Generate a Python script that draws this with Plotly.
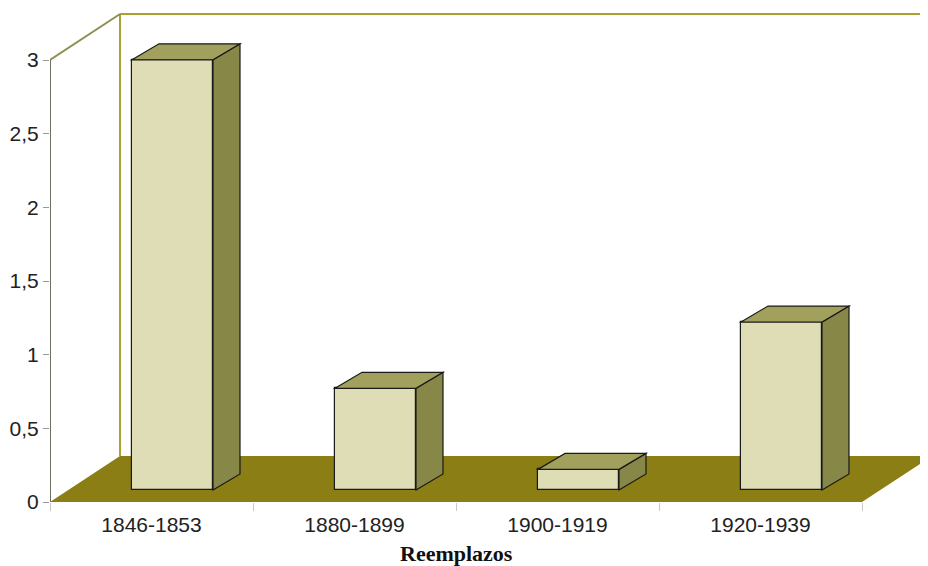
import plotly.graph_objects as go

# datos
periodos = ["1846-1853", "1880-1899", "1900-1919", "1920-1939"]
valores = [2.92, 0.69, 0.14, 1.14]
y_ticks = [0, 0.5, 1, 1.5, 2, 2.5, 3]
y_ticktext = ["0", "0,5", "1", "1,5", "2", "2,5", "3"]

# escala aproximada de la imagen (px por unidad)
PX_X = 203.0
PX_Y = 147.3

# profundidad de pared / suelo y de las barras (px -> unidades)
WALL_DX, WALL_DY = 70 / PX_X, 46 / PX_Y
BAR_SHIFT_X, BAR_BASE = 21 / PX_X, 12 / PX_Y
BAR_DX, BAR_DY = 27 / PX_X, 16 / PX_Y
BAR_W = 81 / PX_X

C_FRONT = "#dfddb6"
C_SIDE = "#878748"
C_TOP = "#a1a15d"
C_FLOOR = "#8b7e14"
C_WALL = "#a8a232"

xs = list(range(len(periodos)))
x_min = -0.5
x_max = x_min + 878 / PX_X
y_max = 3 + WALL_DY + 2 / PX_Y
n = len(periodos)

fig = go.Figure()
fig.add_trace(go.Bar(
    x=xs, y=valores, base=[BAR_BASE] * n,
    width=BAR_W, offset=-BAR_W / 2 + BAR_SHIFT_X,
    marker=dict(color=C_FRONT, line=dict(color="#1a1a1a", width=1.2)),
    showlegend=False, hoverinfo="skip",
))


def poly(pts):
    return "M " + " L ".join(f"{x},{y}" for x, y in pts) + " Z"


shapes = []
# suelo
shapes.append(dict(type="path", xref="x", yref="y", layer="below",
                   path=poly([(x_min, 0), (x_min + WALL_DX, WALL_DY),
                              (n - 0.5 + WALL_DX, WALL_DY), (n - 0.5, 0)]),
                   fillcolor=C_FLOOR, line=dict(width=0)))
# pared del fondo y lateral
shapes.append(dict(type="line", xref="x", yref="y", layer="below",
                   x0=x_min + WALL_DX, y0=WALL_DY, x1=x_min + WALL_DX, y1=3 + WALL_DY,
                   line=dict(color=C_WALL, width=2)))
shapes.append(dict(type="line", xref="x", yref="y", layer="below",
                   x0=x_min + WALL_DX, y0=3 + WALL_DY, x1=x_max + 1, y1=3 + WALL_DY,
                   line=dict(color=C_WALL, width=2)))
shapes.append(dict(type="line", xref="x", yref="y", layer="below",
                   x0=x_min, y0=3, x1=x_min + WALL_DX, y1=3 + WALL_DY,
                   line=dict(color="#8f8f55", width=2)))
shapes.append(dict(type="line", xref="x", yref="y", layer="above",
                   x0=x_min, y0=0, x1=x_min, y1=3,
                   line=dict(color="#6f6f60", width=2)))

# caras laterales y superiores de cada barra
for x, v in zip(xs, valores):
    x0 = x - BAR_W / 2 + BAR_SHIFT_X
    x1 = x0 + BAR_W
    yb, yt = BAR_BASE, BAR_BASE + v
    shapes.append(dict(type="path", xref="x", yref="y", layer="above",
                       path=poly([(x1, yb), (x1 + BAR_DX, yb + BAR_DY),
                                  (x1 + BAR_DX, yt + BAR_DY), (x1, yt)]),
                       fillcolor=C_SIDE, line=dict(color="#1a1a1a", width=1.2)))
    shapes.append(dict(type="path", xref="x", yref="y", layer="above",
                       path=poly([(x0, yt), (x0 + BAR_DX, yt + BAR_DY),
                                  (x1 + BAR_DX, yt + BAR_DY), (x1, yt)]),
                       fillcolor=C_TOP, line=dict(color="#1a1a1a", width=1.2)))

# título del eje centrado bajo las categorías, no bajo toda el área
fig.add_annotation(text="<b>Reemplazos</b>", x=(x_min + n - 0.5) / 2, xref="x",
                   y=0, yref="y", yanchor="middle", yshift=-51, showarrow=False,
                   font=dict(family="Liberation Serif, Times New Roman, serif",
                             size=22, color="#111"))

# la página tiene 8 px de margen en body: se compensa aquí
fig.update_layout(
    width=920, height=558,
    margin=dict(l=42, r=0, t=4, b=64, autoexpand=False),
    paper_bgcolor="white", plot_bgcolor="white",
    font=dict(family="Liberation Sans, Arial, sans-serif", size=21, color="#222"),
    shapes=shapes,
    xaxis=dict(range=[x_min, x_max], tickvals=xs, ticktext=periodos,
               ticks="outside", ticklen=4, tickcolor="rgba(0,0,0,0)",
               showgrid=False, zeroline=False, showline=False, automargin=False,
               minor=dict(tickvals=[i - 0.5 for i in range(n + 1)], ticks="outside",
                          ticklen=8, tickcolor="#c8c8c8", showgrid=False)),
    yaxis=dict(range=[0, y_max], tickvals=y_ticks, ticktext=y_ticktext,
               ticks="outside", ticklen=6, tickcolor="#999", automargin=False,
               showgrid=False, zeroline=False, showline=False),
    bargap=0,
)

fig.write_html("out.html")
